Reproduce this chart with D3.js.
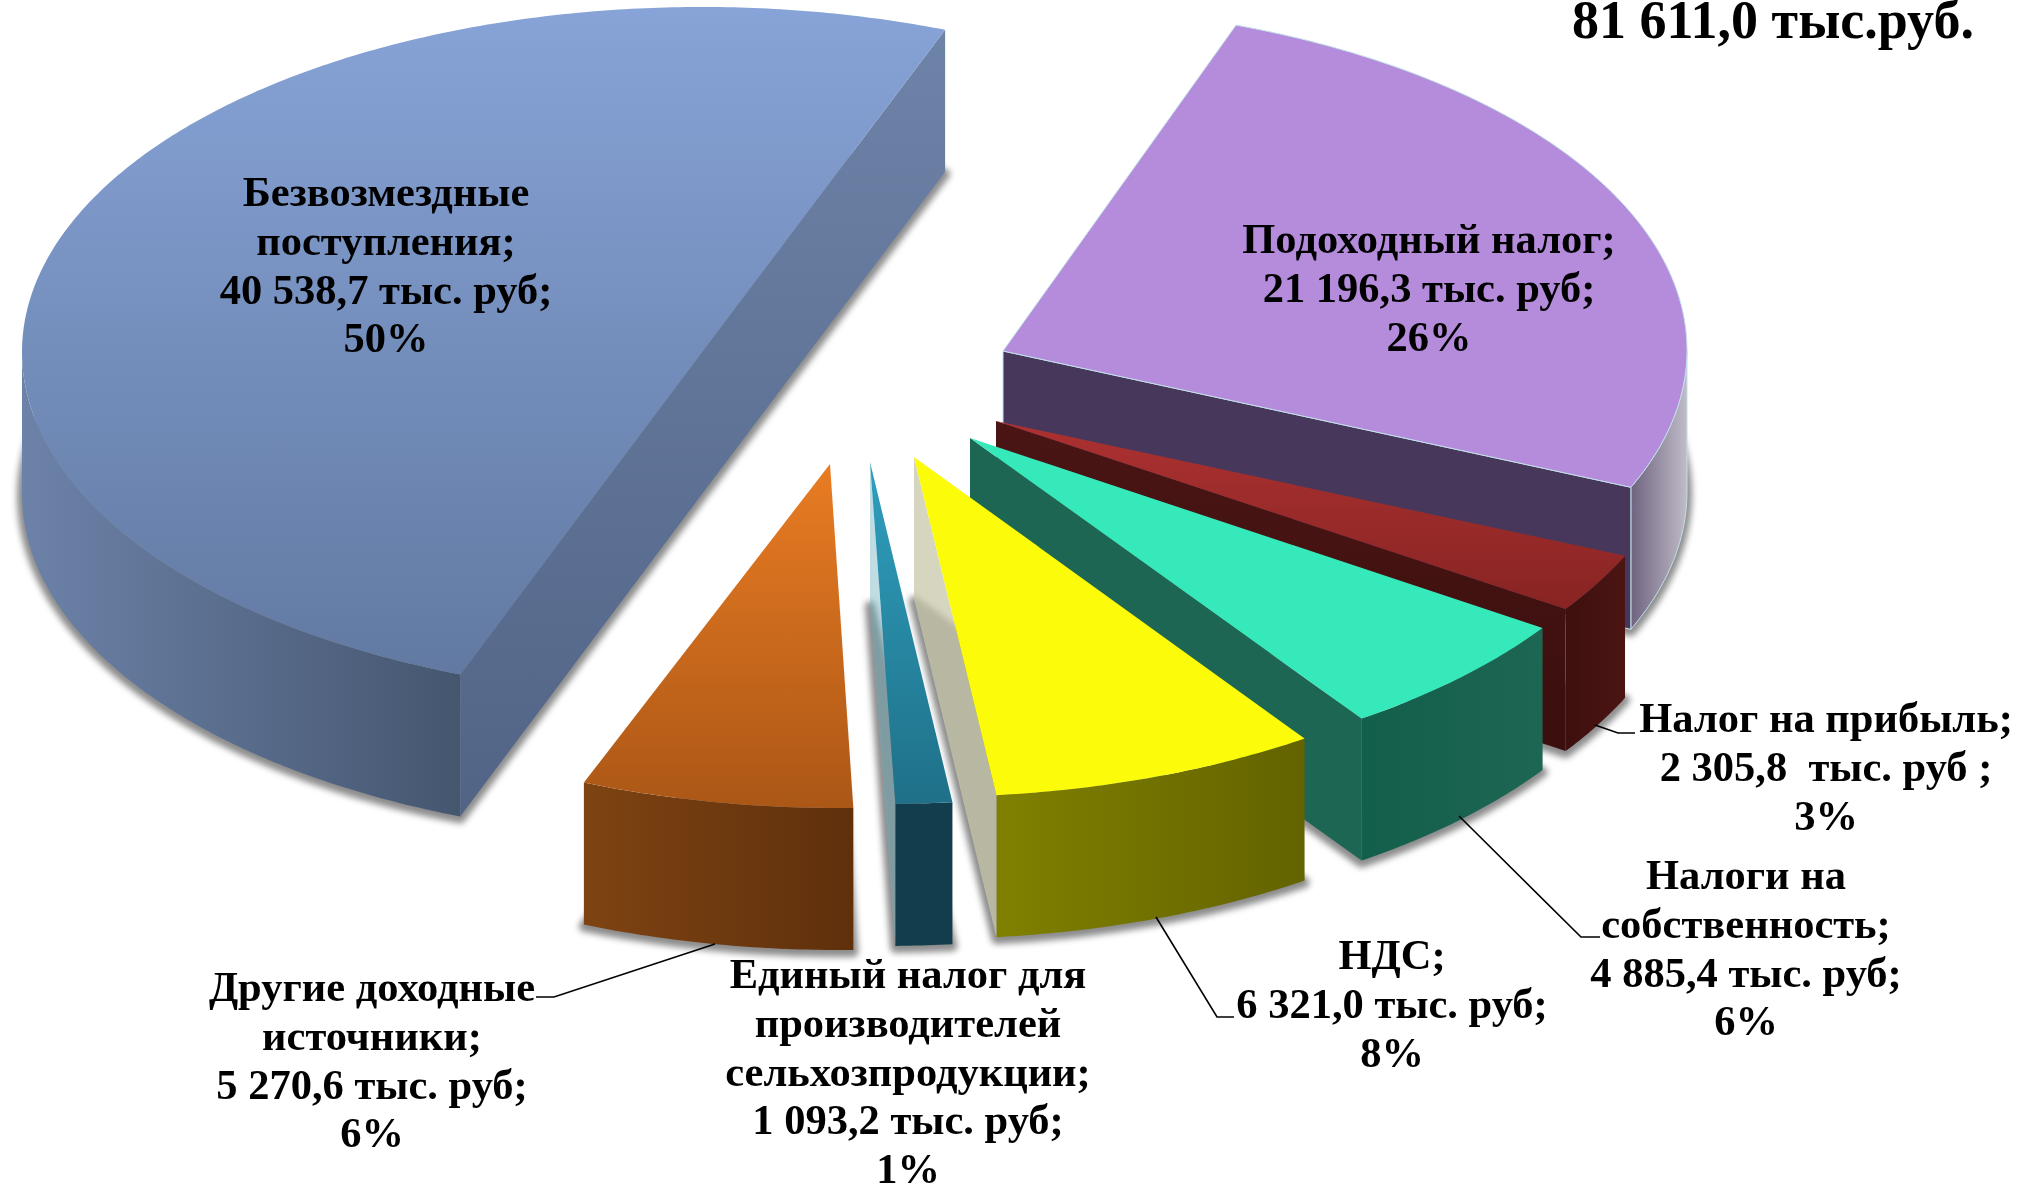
<!DOCTYPE html>
<html lang="ru">
<head>
<meta charset="UTF-8">
<title>Доходы бюджета</title>
<script src="https://d3js.org/d3.v7.min.js"></script>
<style>
    html, body { margin: 0; padding: 0; background: #fff; }
    svg { display: block; }
    text { font-family: "Liberation Serif", serif; font-weight: bold; fill: #000; text-anchor: middle; }
</style>
</head>
<body>
<div id="chart"></div>
<script>
"use strict";

// data, in pie order (clockwise from the top edge of the purple slice)
const names = ["Подоходный налог", "Налог на прибыль", "Налоги на собственность", "НДС",
    "Единый налог для производителей сельхозпродукции", "Другие доходные источники", "Безвозмездные поступления"];
const values = [21196.3, 2305.8, 4885.4, 6321.0, 1093.2, 5270.6, 40538.7];
const totalLabel = "81 611,0 тыс.руб.";
const labelLines = [
    ["Подоходный налог;", "21 196,3 тыс. руб;", "26%"],
    ["Налог на прибыль;", "2 305,8  тыс. руб ;", "3%"],
    ["Налоги на", "собственность;", "4 885,4 тыс. руб;", "6%"],
    ["НДС;", "6 321,0 тыс. руб;", "8%"],
    ["Единый налог для", "производителей", "сельхозпродукции;", "1 093,2 тыс. руб;", "1%"],
    ["Другие доходные", "источники;", "5 270,6 тыс. руб;", "6%"],
    ["Безвозмездные", "поступления;", "40 538,7 тыс. руб;", "50%"]
];

// layout of each slice: exploded arc centre and the (slightly different) apex point
const arcCentres = [[1007, 350], [1006, 413], [983, 432], [926, 452], [882, 459], [840, 463], [702, 352]];
const apexes = [[1003, 351], [996, 421], [970, 438], [914, 457], [870, 462], [830, 464], [702, 352]];
// the 3d view bends a few edges by about a degree
const startNudge = [-1.27, 0, 0, 0, 0, 0, -1.3];
const endNudge = [-1, 0, 0, 0, 0, 0, 0];
const labelPos = [[1429, 253], [1826, 732], [1746, 889], [1392, 969], [908, 988], [372, 1001], [386, 206]];
const leaders = [
    [[1595, 725], [1618, 733], [1635, 733]],
    [[1459, 816], [1581, 937], [1600, 937]],
    [[1156, 917], [1217, 1017], [1234, 1017]],
    [[715, 944], [554, 997], [536, 997]]
];

// colours: top face [upper, lower], outer wall [left, right], cut face [upper, lower]
const topColors = [["#b58cdb", "#b58cdb"], ["#ad3131", "#872423"], ["#36e9bb", "#36e9bb"], ["#fbfb0a", "#fbfb0a"],
    ["#2f9fbe", "#1f7088"], ["#e97c23", "#ab5716"], ["#87a3d7", "#627aa2"]];
const wallColors = [["#6f6380", "#c0bcc8"], ["#3d0f0e", "#4c1514"], ["#125f4b", "#1e6654"], ["#808000", "#636300"],
    ["#123d4c", "#123d4c"], ["#7e4312", "#5f300c"], ["#6c82a8", "#45566f"]];
const cutColors = [["#47375a", "#47375a"], ["#4a1514", "#3a0f0e"], ["#1e6654", "#1e6654"], ["#c8c8aa", "#c8c8aa"],
    ["#6fb1c1", "#6fb1c1"], ["#000", "#000"], ["#6f84a9", "#516486"]];
const cutOpacity = [1, 1, 1, 0.74, 0.44, 1, 1];

const width = 2019, height = 1186;
const rx = 680, ry = 345, depth = 142;

const svg = d3.select("#chart").append("svg").attr("width", width).attr("height", height);
const defs = svg.append("defs");

defs.append("filter").attr("id", "soft")
    .attr("x", "-10%").attr("y", "-10%").attr("width", "120%").attr("height", "120%")
    .append("feGaussianBlur").attr("stdDeviation", 3);

function gradient(id, colors, x1, y1, x2, y2) {
    const g = defs.append("linearGradient").attr("id", id)
        .attr("gradientUnits", "userSpaceOnUse")
        .attr("x1", x1).attr("y1", y1).attr("x2", x2).attr("y2", y2);
    g.append("stop").attr("offset", 0).attr("stop-color", colors[0]);
    g.append("stop").attr("offset", 1).attr("stop-color", colors[1]);
    return "url(#" + id + ")";
}

const deg = Math.PI / 180;
const start = 20.95 * deg;
const arcs = d3.pie().sort(null).startAngle(start).endAngle(start + 2 * Math.PI)(values)
    .map((d, i) => ({
        startAngle: d.startAngle + startNudge[i] * deg,
        endAngle: d.endAngle + endNudge[i] * deg
    }));

const line = d3.line();

function onArc(i, a) {
    return [arcCentres[i][0] + rx * Math.sin(a), arcCentres[i][1] - ry * Math.cos(a)];
}
function sampleArc(i, a0, a1) {
    const n = Math.max(2, Math.ceil((a1 - a0) / 0.01));
    return d3.range(n + 1).map(k => onArc(i, a0 + (a1 - a0) * k / n));
}
function down(p) { return [p[0], p[1] + depth]; }
function topOutline(i) {
    return [apexes[i]].concat(sampleArc(i, arcs[i].startAngle, arcs[i].endAngle));
}

// footprint shadows lie on the ground, under every slice
svg.append("g").attr("filter", "url(#soft)").attr("transform", "translate(0,2)")
    .selectAll("path").data(d3.range(values.length)).join("path")
    .attr("d", i => line(topOutline(i).map(down)) + "Z")
    .attr("fill", "#000").attr("stroke", "#000").attr("stroke-width", 10)
    .attr("stroke-linejoin", "round").attr("opacity", 0.45);

function drawSlice(i) {
    const a0 = arcs[i].startAngle, a1 = arcs[i].endAngle;
    const apex = apexes[i];
    const outline = topOutline(i);
    const g = svg.append("g").attr("class", "slice").attr("data-name", names[i]);
    const edge = i === 0 ? "#c3e0ea" : "none";

    // the part of the rim that faces the viewer (cos < 0)
    const w0 = Math.max(a0, Math.PI / 2), w1 = Math.min(a1, 3 * Math.PI / 2);
    if (w1 > w0) {
        const rim = sampleArc(i, w0, w1);
        const xs = d3.extent(rim, d => d[0]);
        g.append("path")
            .attr("d", line(rim.concat(rim.slice().reverse().map(down))) + "Z")
            .attr("fill", gradient("wall" + i, wallColors[i], xs[0], 0, xs[1], 0))
            .attr("stroke", edge);
    }

    // cut faces that can be seen from above the front
    const norm = a => (a + 2 * Math.PI) % (2 * Math.PI);
    const cuts = [];
    if (norm(a0) > Math.PI) cuts.push(onArc(i, a0));
    if (norm(a1) < Math.PI) cuts.push(onArc(i, a1));
    const ys = d3.extent(outline, d => d[1]);
    const cutFill = gradient("cut" + i, cutColors[i], 0, ys[0], 0, ys[1] + depth);
    cuts.forEach(p => {
        g.append("path")
            .attr("d", line([apex, p, down(p), down(apex)]) + "Z")
            .attr("fill", cutFill).attr("fill-opacity", cutOpacity[i])
            .attr("stroke", edge);
    });

    // top face
    g.append("path")
        .attr("d", line(outline) + "Z")
        .attr("fill", gradient("top" + i, topColors[i], 0, ys[0], 0, ys[1]))
        .attr("stroke", edge);
}

// back to front
[6, 0, 1, 2, 5, 4, 3].forEach(drawSlice);

svg.append("g").selectAll("path").data(leaders).join("path")
    .attr("d", d => line(d))
    .attr("fill", "none").attr("stroke", "#000").attr("stroke-width", 1.6);

// labels
const labels = svg.append("g").attr("font-size", 42.5);
labelLines.forEach((lines, i) => {
    lines.forEach((s, k) => {
        labels.append("text").attr("x", labelPos[i][0]).attr("y", labelPos[i][1] + k * 48.8)
            .style("white-space", "pre").text(s);
    });
});

svg.append("text").attr("x", 1773).attr("y", 38).attr("font-size", 54).text(totalLabel);
</script>
</body>
</html>
